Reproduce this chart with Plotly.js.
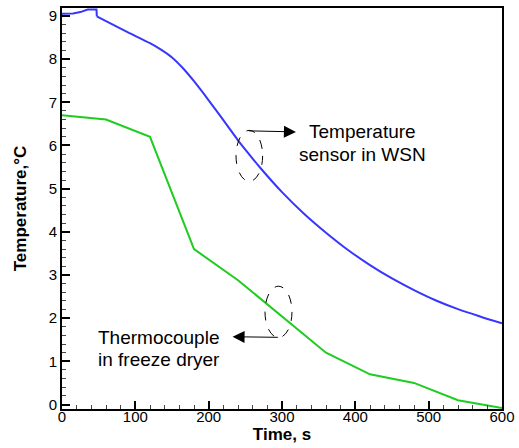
<!DOCTYPE html>
<html>
<head>
<meta charset="utf-8">
<script src="https://cdn.plot.ly/plotly-3.0.1.min.js"></script>
<style>html,body{margin:0;padding:0;background:#fff;}#chart{width:519px;height:448px;}</style>
</head>
<body>
<div id="chart"></div>
<script>
// Temperature sensor in WSN (blue)
const sensorTime = [0,15,25,32,35,47,47.5,60,90,120,135,150,165,180,195,210,225,240,255,270,300,330,360,390,420,450,480,510,540,570,600];
const sensorTemp = [9.05,9.06,9.09,9.14,9.15,9.15,8.99,8.88,8.62,8.37,8.22,8.04,7.79,7.49,7.16,6.82,6.47,6.12,5.80,5.49,4.92,4.42,3.98,3.58,3.23,2.92,2.65,2.41,2.21,2.04,1.88];
// Thermocouple in freeze dryer (green)
const tcTime = [0,60,120,180,240,300,360,420,480,540,600];
const tcTemp = [6.7,6.6,6.2,3.6,2.88,2.05,1.2,0.7,0.5,0.1,-0.08];

const xTicks = [0,100,200,300,400,500,600];
const yTicks = [0,1,2,3,4,5,6,7,8,9];

const FONT = '"Liberation Sans", Arial, Helvetica, sans-serif';
const stepEnd = 6; // index where the smooth cooling curve begins

const traces = [
  {x: sensorTime.slice(0, stepEnd + 1), y: sensorTemp.slice(0, stepEnd + 1), mode: 'lines',
   line: {color: '#3636ff', width: 2}, hoverinfo: 'skip'},
  {x: sensorTime.slice(stepEnd), y: sensorTemp.slice(stepEnd), mode: 'lines',
   line: {color: '#3636ff', width: 2, shape: 'spline', smoothing: 0.8}, hoverinfo: 'skip'},
  {x: tcTime, y: tcTemp, mode: 'lines', line: {color: '#1fcc1f', width: 2}, hoverinfo: 'skip'}
];

const layout = {
  width: 519, height: 448,
  margin: {l: 62, r: 17, t: 8, b: 39},
  paper_bgcolor: '#fff', plot_bgcolor: '#fff',
  showlegend: false,
  font: {family: FONT, color: '#000'},
  xaxis: {
    range: [0, 600], tickvals: xTicks, ticktext: xTicks.map(String),
    ticks: 'inside', ticklen: 8, tickwidth: 2, tickcolor: '#000',
    minor: {dtick: 20, ticks: 'inside', ticklen: 4, tickwidth: 1, tickcolor: '#444'},
    showline: true, linewidth: 2, linecolor: '#000', mirror: true,
    showgrid: false, zeroline: false,
    ticklabelstandoff: -7,
    tickfont: {size: 15, family: FONT},
    title: {text: '<b>Time, s</b>', font: {size: 17, family: FONT}, standoff: 4}
  },
  yaxis: {
    range: [-0.104, 9.185], tickvals: yTicks, ticktext: yTicks.map(String),
    ticks: 'inside', ticklen: 8, tickwidth: 2, tickcolor: '#000',
    minor: {dtick: 0.2, ticks: 'inside', ticklen: 4, tickwidth: 1, tickcolor: '#444'},
    showline: true, linewidth: 2, linecolor: '#000', mirror: true,
    showgrid: false, zeroline: false,
    tickfont: {size: 15, family: FONT},
    title: {text: '<b>Temperature,°C</b>', font: {size: 17, family: FONT}, standoff: 18}
  },
  shapes: [
    {type: 'circle', xref: 'x', yref: 'y', x0: 237.3, x1: 273.6, y0: 5.17, y1: 6.35,
     line: {color: '#000', width: 1, dash: 'dash'}},
    {type: 'circle', xref: 'x', yref: 'y', x0: 276.8, x1: 313.6, y0: 1.55, y1: 2.74,
     line: {color: '#000', width: 1, dash: 'dash'}}
  ],
  annotations: [
    {x: 319, y: 6.315, ax: 253, ay: 6.34, xref: 'x', yref: 'y', axref: 'x', ayref: 'y',
     showarrow: true, arrowhead: 2, arrowsize: 2.4, arrowwidth: 1, arrowcolor: '#000', text: ''},
    {x: 232.6, y: 1.57, ax: 296.3, ay: 1.556, xref: 'x', yref: 'y', axref: 'x', ayref: 'y',
     showarrow: true, arrowhead: 2, arrowsize: 2.4, arrowwidth: 1, arrowcolor: '#000', text: ''},
    {x: 409.5, y: 6.33, xref: 'x', yref: 'y', text: 'Temperature', showarrow: false,
     xanchor: 'center', yanchor: 'middle', font: {size: 19, family: FONT, color: '#000'}},
    {x: 409.5, y: 5.78, xref: 'x', yref: 'y', text: 'sensor in WSN', showarrow: false,
     xanchor: 'center', yanchor: 'middle', font: {size: 19, family: FONT, color: '#000'}},
    {x: 46, y: 1.556, xref: 'x', yref: 'y', text: 'Thermocouple', showarrow: false,
     xanchor: 'left', yanchor: 'middle', font: {size: 19, family: FONT, color: '#000'}},
    {x: 46, y: 1.037, xref: 'x', yref: 'y', text: 'in freeze dryer', showarrow: false,
     xanchor: 'left', yanchor: 'middle', font: {size: 19, family: FONT, color: '#000'}}
  ]
};

Plotly.newPlot('chart', traces, layout, {staticPlot: true, displayModeBar: false});
</script>
</body>
</html>
